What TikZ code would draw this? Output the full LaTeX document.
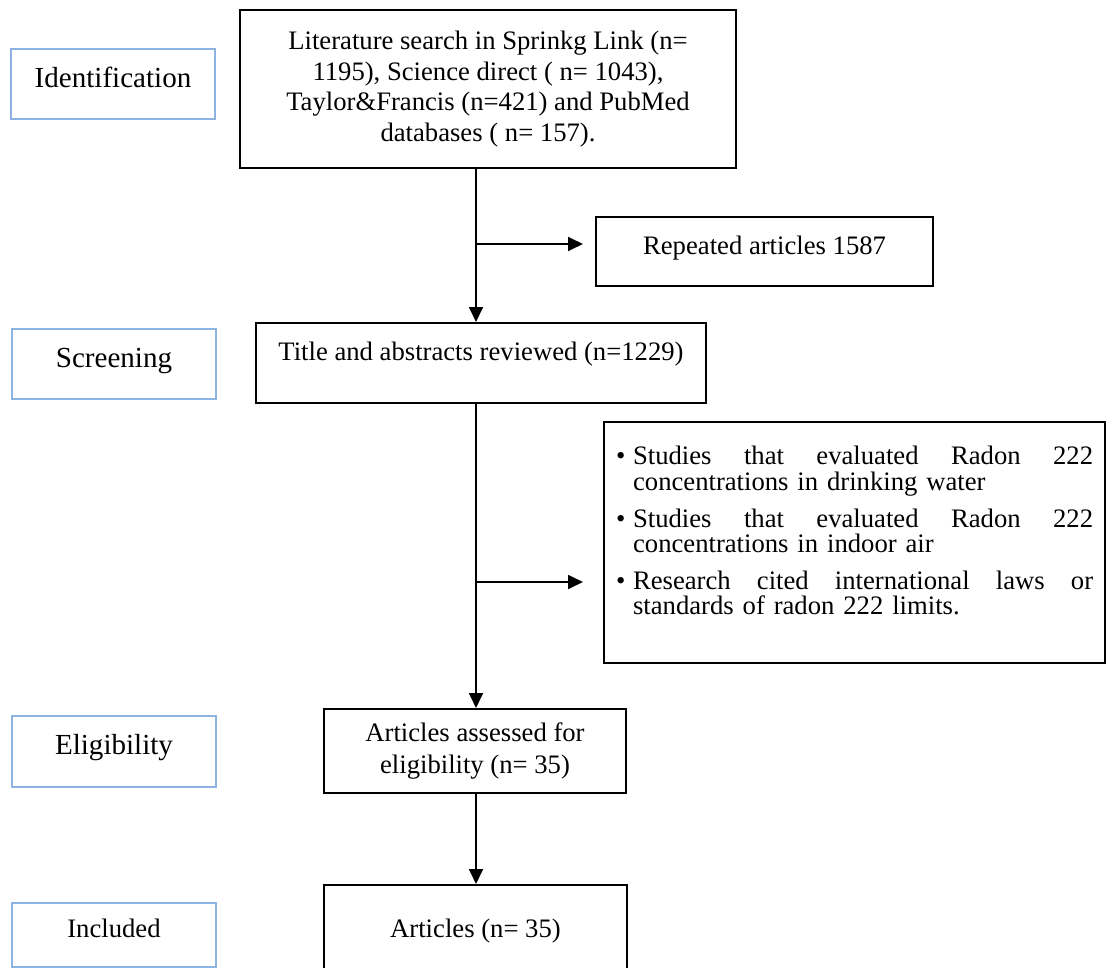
\documentclass[tikz,border=0pt]{standalone}
\usepackage{fontspec}
\setmainfont{Liberation Serif}
\usetikzlibrary{arrows.meta,positioning}
\definecolor{stageblue}{RGB}{141,179,226}

\begin{document}
\begin{tikzpicture}[
    x=0.375pt, y=-0.375pt,
    every node/.style={font=\fontsize{10}{11.5}\selectfont},
    stagebox/.style={rectangle, draw=stageblue, line width=0.75pt, anchor=north west,
                     minimum width=76.5pt, inner sep=0pt, text height=14.6pt, text depth=11.65pt,
                     font=\fontsize{10.9}{13}\selectfont},
    mainbox/.style={rectangle, draw=black, line width=0.75pt, anchor=north west,
                    align=center, inner sep=0pt},
    arr/.style={-{Triangle[length=5.6pt,width=5.2pt]}, line width=0.75pt},
]
\useasboundingbox (0,0) rectangle (1107,967);

% stages on the left
\node[stagebox] (ident) at (10,48) {Identification};
\node[stagebox] (screen) at (11,328) {Screening};
\node[stagebox, text depth=12pt] (elig) at (11,715) {Eligibility};
\node[stagebox, text height=13.1pt, text depth=10.9pt, font=\fontsize{10}{12}\selectfont] (incl) at (11,902) {Included};

% main column
\node[mainbox, minimum width=186pt, minimum height=59.25pt] (search) at (239,9)
    {Literature search in Sprinkg Link (n=\\1195), Science direct ( n= 1043),\\
     Taylor\&Francis (n=421) and PubMed\\databases ( n= 157).};
\node[mainbox, minimum width=126.4pt, text height=13.9pt, text depth=12pt] (dup) at (595,216)
    {Repeated articles 1587};
\node[mainbox, minimum width=168.75pt, text height=13.9pt, text depth=16.1pt] (titles) at (255,322)
    {Title and abstracts reviewed (n=1229)};
\node[mainbox, align=left, text width=178.9pt, inner xsep=4.5pt, text height=16.1pt, text depth=74.3pt,
      font=\fontsize{10}{9.4}\selectfont] (excl) at (603,421)
    {\makebox[6.4pt][l]{\textbullet}\hbox to 172.5pt{Studies\hfill that\hfill evaluated\hfill Radon\hfill 222}\\
     \hspace*{6.4pt}concentrations in drinking water\\[4.5pt]
     \makebox[6.4pt][l]{\textbullet}\hbox to 172.5pt{Studies\hfill that\hfill evaluated\hfill Radon\hfill 222}\\
     \hspace*{6.4pt}concentrations in indoor air\\[4.5pt]
     \makebox[6.4pt][l]{\textbullet}\hbox to 172.5pt{Research\hfill cited\hfill international\hfill laws\hfill or}\\
     \hspace*{6.4pt}standards of radon 222 limits.};
\node[mainbox, minimum width=113.25pt, minimum height=31.5pt,
      font=\fontsize{10}{12}\selectfont] (assessed) at (323,708)
    {Articles assessed for\\eligibility (n= 35)};
\node[mainbox, minimum width=113.6pt, minimum height=34.5pt] (articles) at (323,884)
    {Articles (n= 35)};

\coordinate (trunk) at (476,0);
\coordinate (fork1) at (476,244);
\coordinate (fork2) at (476,582);

\draw[arr] (search.south -| trunk) -- (titles.north -| trunk);
\draw[arr] (fork1) -- ([xshift=-4.5pt]dup.west |- fork1);
\draw[arr] (titles.south -| trunk) -- (assessed.north -| trunk);
\draw[arr] (fork2) -- ([xshift=-7.5pt]excl.west |- fork2);
\draw[arr] (assessed.south -| trunk) -- (articles.north -| trunk);

\end{tikzpicture}
\end{document}
